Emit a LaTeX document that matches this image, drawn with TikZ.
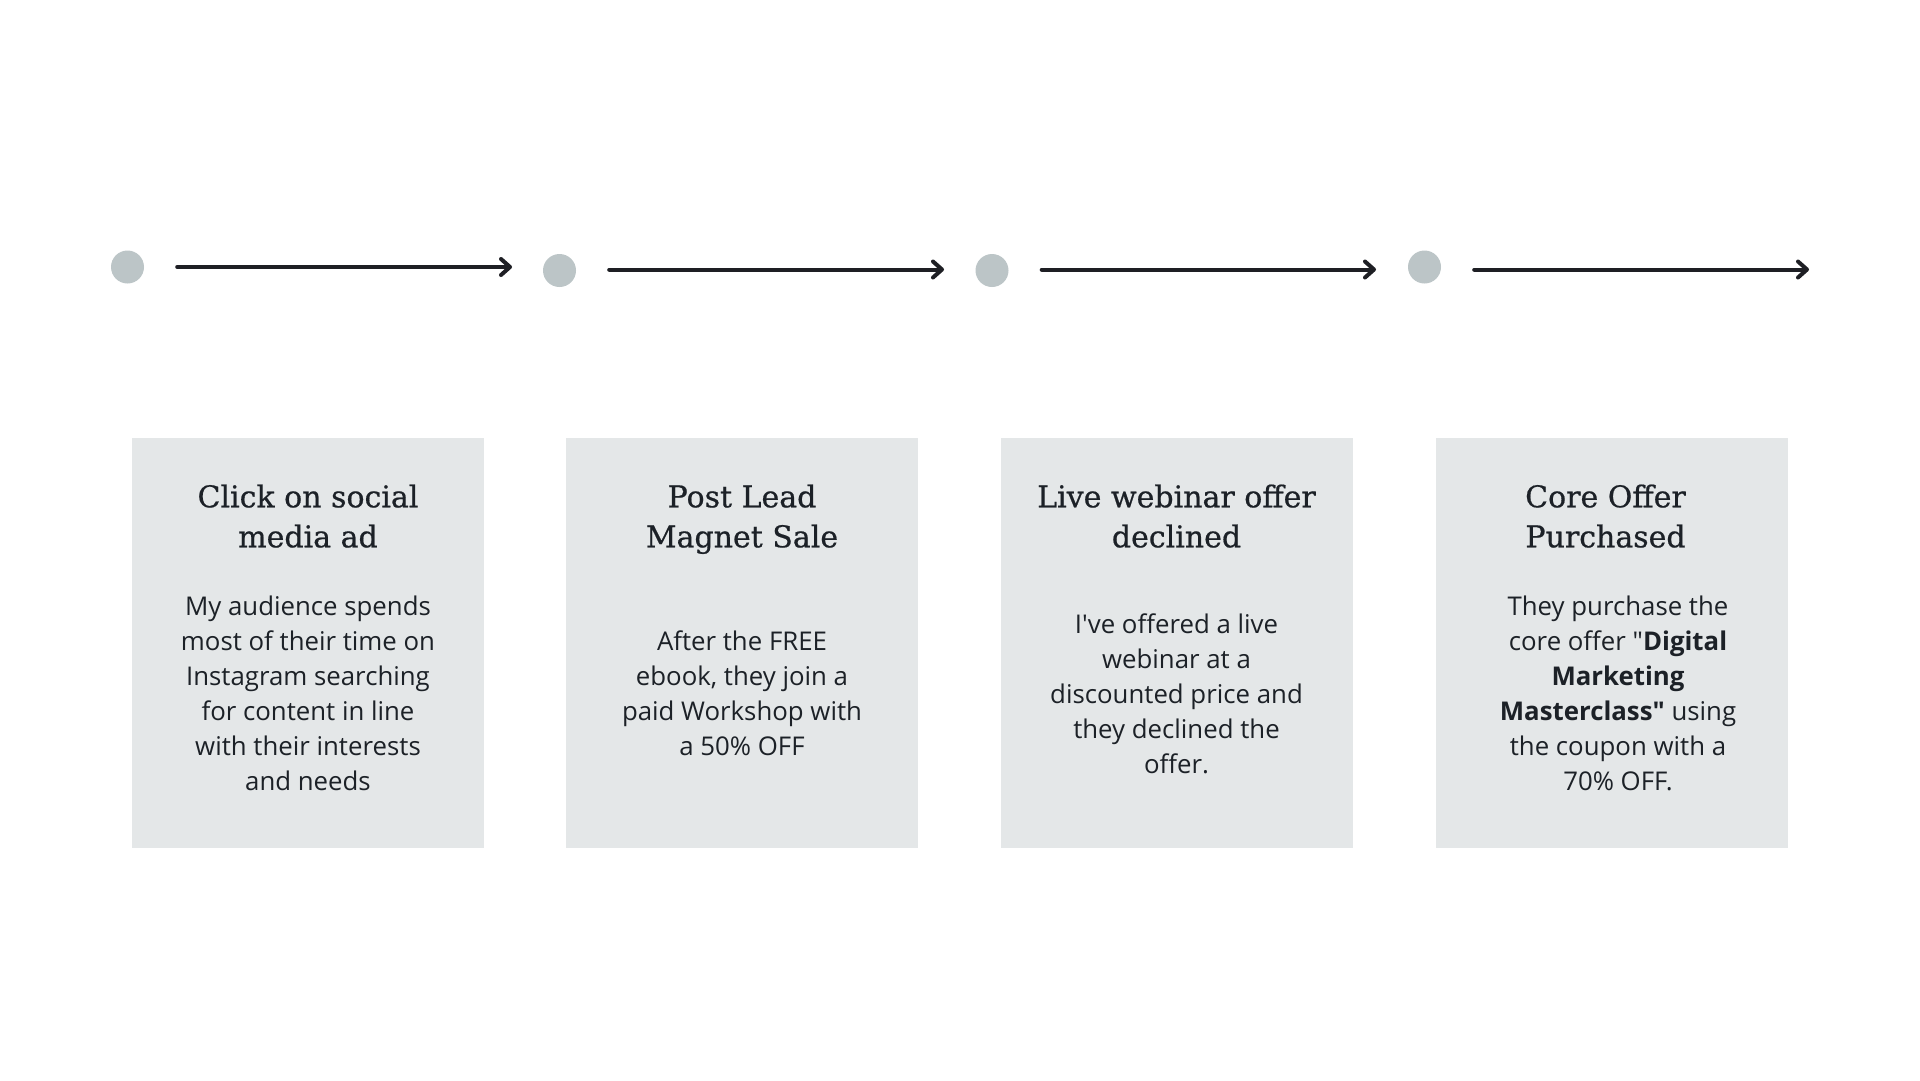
\documentclass[tikz,border=0pt]{standalone}
\usepackage{fontspec}
\setmainfont{Open Sans}
\newfontfamily\headfont[FakeBold=0.6]{DejaVu Serif}
\usetikzlibrary{arrows.meta}
\definecolor{boxgray}{HTML}{E4E7E8}
\definecolor{dotgray}{HTML}{BCC5C7}
\definecolor{inkdark}{HTML}{1C2127}
\definecolor{arrowdark}{HTML}{1E1F24}
\begin{document}
\begin{tikzpicture}[x=1pt,y=-1pt,
                        dot/.style={circle,fill=dotgray,inner sep=0pt,minimum size=33pt},
                        flow/.style={arrowdark,line width=4pt,line cap=round,
                            -{Straight Barb[length=9pt,width=16pt,line cap=round,line join=round]}},
                        card/.style={fill=boxgray,inner sep=0pt,minimum width=352pt,minimum height=410pt},
                        head/.style={text=inkdark,align=center,inner sep=0pt,
                            font=\headfont\fontsize{30}{40}\selectfont},
                        desc/.style={text=inkdark,align=center,inner sep=0pt,
                            font=\fontsize{25.8}{35}\selectfont}]
                        \useasboundingbox[fill=white] (0,0) rectangle (1920,1080);
                        \node[dot] (dot1) at (127.5,267) {};
                        \node[dot] (dot2) at (559.5,270.5) {};
                        \node[dot] (dot3) at (992,270.5) {};
                        \node[dot] (dot4) at (1424.5,267) {};
                        \coordinate (end1) at (512,267);
                        \coordinate (end2) at (944,269.5);
                        \coordinate (end3) at (1376,269.5);
                        \coordinate (end4) at (1809,269.5);
                        \draw[flow] ([xshift=33pt]dot1.east |- end1) -- (end1);
                        \draw[flow] ([xshift=33pt]dot2.east |- end2) -- (end2);
                        \draw[flow] ([xshift=33pt]dot3.east |- end3) -- (end3);
                        \draw[flow] ([xshift=33pt]dot4.east |- end4) -- (end4);
                        \node[card] (card1) at (308,643) {};
                        \node[card] (card2) at (742,643) {};
                        \node[card] (card3) at (1176.5,643) {};
                        \node[card] (card4) at (1612,643) {};
                        \node[head] (head1) at (308,519.3) {\strut Click on social\\media ad\strut};
                        \node[head] (head2) at (742,519.3) {\strut Post Lead\\Magnet Sale\strut};
                        \node[head] (head3) at (1176.5,519.3) {\strut Live webinar offer\\declined\strut};
                        \node[head] (head4) at (1605.5,519.3) {\strut Core Offer\\Purchased\strut};
                        \node[desc] (desc1) at (308,696.2) {\strut My audience spends\\most of their time on\\Instagram searching\\for content in line\\with their interests\\and needs\strut};
                        \node[desc] (desc2) at (742,696.2) {\strut After the FREE\\ebook, they join a\\paid Workshop with\\a 50\% OFF\strut};
                        \node[desc] (desc3) at (1176.5,696.2) {\strut I\textquotesingle ve offered a live\\webinar at a\\discounted price and\\they declined the\\offer.\strut};
                        \node[desc] (desc4) at (1618,696.2) {\strut They purchase the\\core offer \textquotedbl\textbf{Digital}\\\textbf{Marketing}\\\textbf{Masterclass\textquotedbl} using\\the coupon with a\\70\% OFF.\strut};
                    \end{tikzpicture}
\end{document}
